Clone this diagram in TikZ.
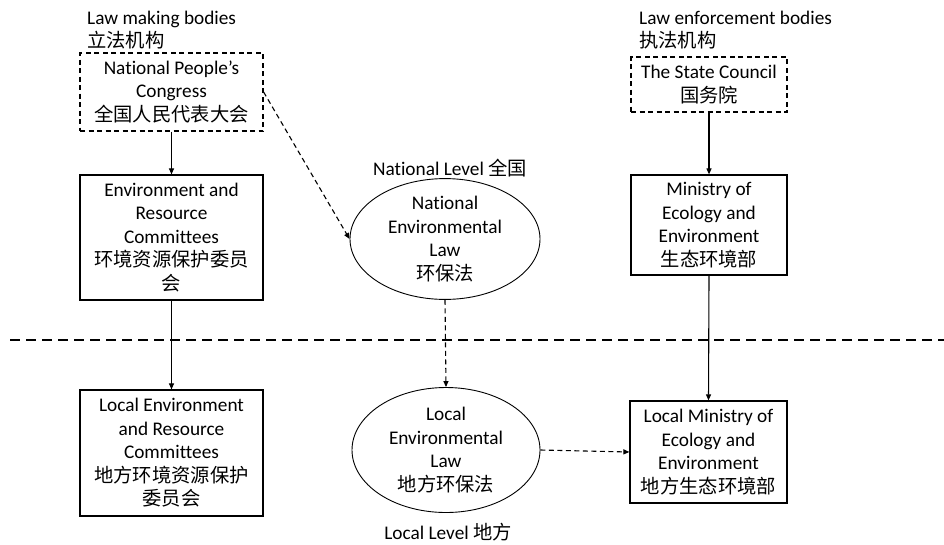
\documentclass[tikz,border=0pt]{standalone}
\usepackage{fontspec}
\setmainfont{Carlito}[Ligatures=NoCommon]
\newfontfamily\cjk{Noto Sans CJK SC}
\usetikzlibrary{shapes.geometric,arrows.meta,positioning}

\begin{document}
\begin{tikzpicture}[
    x=1pt, y=-1pt,
    font=\fontsize{19.3}{23.5}\selectfont,
    body/.style={draw, line width=1.2pt, align=center, inner sep=0pt},
    dashbox/.style={body, dash pattern=on 5pt off 3.5pt},
    lawnode/.style={draw, ellipse, line width=0.9pt, align=center, inner sep=0pt},
    heading/.style={align=left, inner sep=0pt, anchor=west},
    link/.style={-{Triangle[length=6pt,width=5pt]}, line width=1.1pt},
    dashlink/.style={link, dash pattern=on 5pt off 3.5pt}
]
\useasboundingbox (0,0) rectangle (944,544);

% column headings
\node[heading] (makers) at (87,30) {Law making bodies\\{\cjk 立法机构}};
\node[heading] (enforcers) at (639,30) {Law enforcement bodies\\{\cjk 执法机构}};

% law making side
\node[dashbox, minimum width=183pt, minimum height=78pt] (npc) at (171.5,92)
  {National People’s\\Congress\\{\cjk 全国人民代表大会}};
\node[body, minimum width=183pt, minimum height=125pt] (erc) at (171.5,237.5)
  {Environment and\\Resource\\Committees\\{\cjk 环境资源保护委员}\\{\cjk 会}};
\node[body, minimum width=183pt, minimum height=126pt] (lerc) at (171.5,453)
  {Local Environment\\and Resource\\Committees\\{\cjk 地方环境资源保护}\\{\cjk 委员会}};

% laws
\node[inner sep=0pt] (natlevel) at (450,168) {National Level {\cjk 全国}};
\node[lawnode, minimum width=190pt, minimum height=112pt] (nel) at (445,239)
  {National\\Environmental\\Law\\{\cjk 环保法}};
\node[lawnode, minimum width=188pt, minimum height=125pt] (lel) at (446,450)
  {Local\\Environmental\\Law\\{\cjk 地方环保法}};
\node[inner sep=0pt] (loclevel) at (448,532) {Local Level {\cjk 地方}};

% law enforcement side
\node[dashbox, minimum width=156pt, minimum height=55pt] (council) at (709,84.5)
  {The State Council\\{\cjk 国务院}};
\node[body, minimum width=156pt, minimum height=100pt] (mee) at (709,225)
  {Ministry of\\Ecology and\\Environment\\{\cjk 生态环境部}};
\node[body, minimum width=157pt, minimum height=102pt] (lmee) at (708.5,452)
  {Local Ministry of\\Ecology and\\Environment\\{\cjk 地方生态环境部}};

% national / local divide
\coordinate (divl) at (10,340);
\coordinate (divr) at (944,340);
\draw[line width=2pt, dash pattern=on 10pt off 6pt] (divl) -- (divr);

\foreach \a/\b in {npc/erc, erc/lerc, council/mee, mee/lmee}
  \draw[link] (\a.south) -- (\b.north);
\draw[dashlink] (npc.east) -- (nel.west);
\draw[dashlink] (nel.south) -- (lel.north);
\draw[dashlink] (lel.east) -- (lmee.west);
\end{tikzpicture}
\end{document}
